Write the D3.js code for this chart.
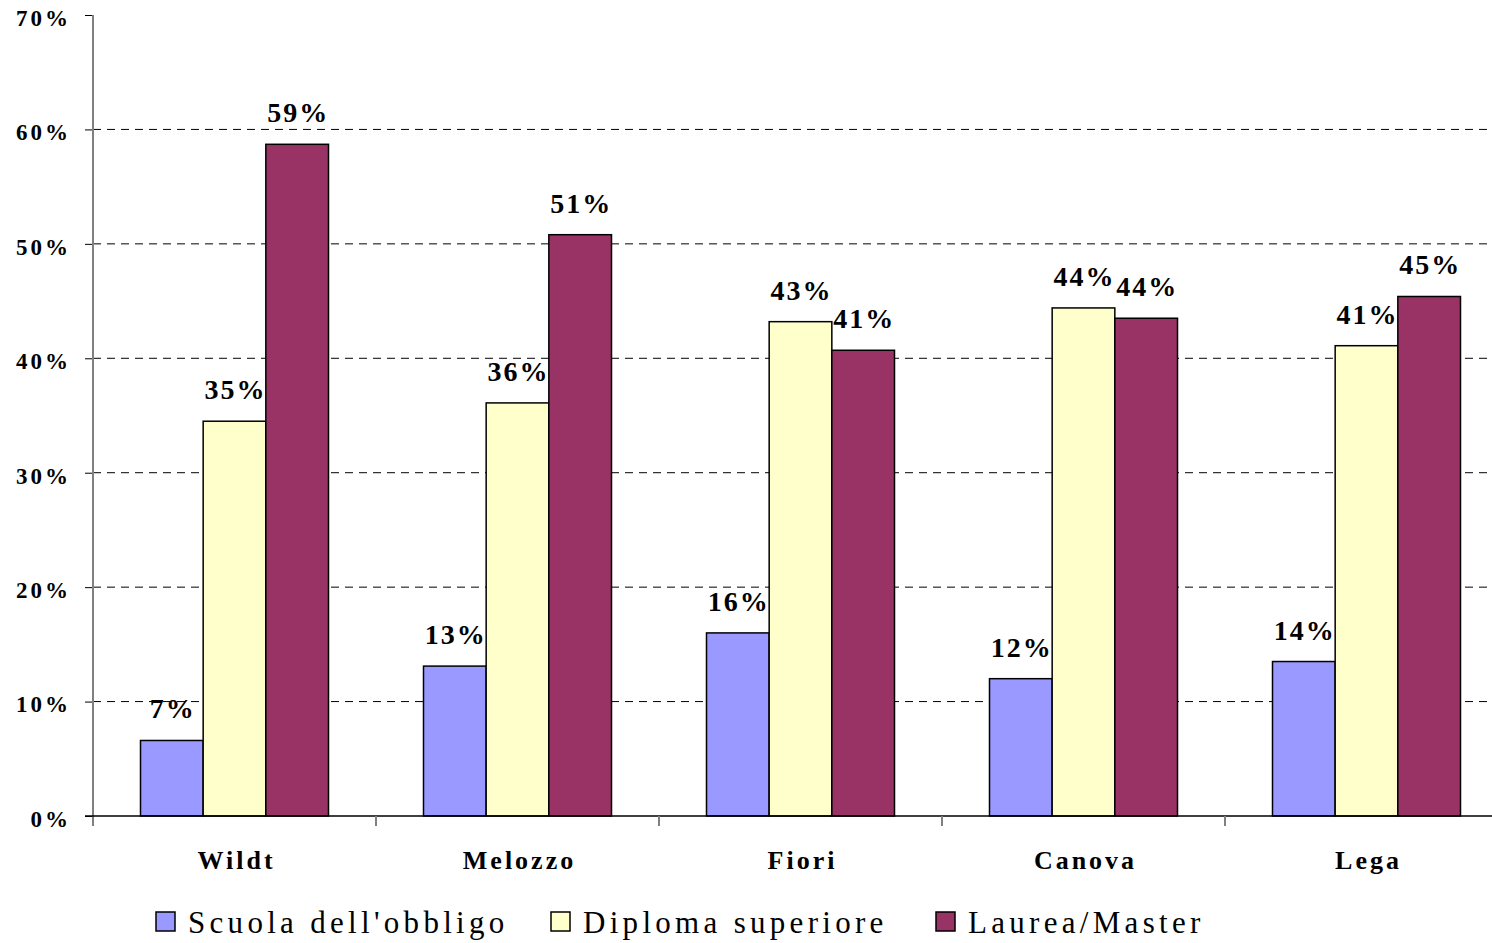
<!DOCTYPE html>
<html><head><meta charset="utf-8">
<script src="https://cdn.jsdelivr.net/npm/d3@7"></script>
<style>
html,body{margin:0;padding:0;background:#fff;}
text{font-family:"Liberation Serif","DejaVu Serif",serif;font-weight:bold;fill:#000;}
</style></head>
<body>
<svg id="chart" width="1492" height="943"></svg>
<script>
const categories = ["Wildt","Melozzo","Fiori","Canova","Lega"];
const seriesNames = ["Scuola dell'obbligo","Diploma superiore","Laurea/Master"];
const scuola = [6.6, 13.1, 16.0, 12.0, 13.5];
const diploma = [34.5, 36.1, 43.2, 44.4, 41.1];
const laurea = [58.7, 50.8, 40.7, 43.5, 45.4];
const labels = [["7%","13%","16%","12%","14%"],["35%","36%","43%","44%","41%"],["59%","51%","41%","44%","45%"]];
const yTicks = [0,10,20,30,40,50,60,70];
const colors = ["#9999FF","#FFFFCC","#993366"];

(function(){
const series = [scuola, diploma, laurea];
const svg = d3.select("#chart");
const mLeft = 93, mTop = 15, mBottom = 816, catW = 283;
const x0 = d3.scaleBand().domain(categories).range([mLeft, mLeft + catW*categories.length]);
const x1 = d3.scaleBand().domain(d3.range(3)).range([47.5, catW-47.5]);
const y = d3.scaleLinear().domain([0,70]).range([mBottom, mTop]);

// gridlines
svg.append("g").selectAll("line").data(yTicks.filter(t=>t>0&&t<70)).join("line")
  .attr("x1", mLeft).attr("x2", 1490).attr("y1", d=>y(d)).attr("y2", d=>y(d))
  .attr("stroke","#000").attr("stroke-width",1).attr("stroke-dasharray","8,6");

// y axis
const yAxis = d3.axisLeft(y).tickValues(yTicks).tickFormat(d=>d+"%").tickSize(8).tickPadding(14);
const gy = svg.append("g").attr("transform",`translate(${mLeft},0)`).call(yAxis);
gy.select(".domain").remove();
gy.selectAll(".tick line").attr("stroke","#000");
gy.selectAll(".tick text").attr("dy","0.45em").style("font-size","23px").style("letter-spacing","3px");
svg.append("line").attr("x1",mLeft).attr("x2",mLeft).attr("y1",mTop).attr("y2",mBottom+10).attr("stroke","#808080").attr("stroke-width",2);

// bars
const groups = svg.append("g").selectAll("g").data(categories).join("g")
  .attr("transform", d=>`translate(${x0(d)},0)`);
groups.each(function(c, ci){
  const g = d3.select(this);
  series.forEach((s, si)=>{
    g.append("rect").attr("x", x1(si)).attr("width", x1.bandwidth())
      .attr("y", y(s[ci])).attr("height", mBottom - y(s[ci]))
      .attr("fill", colors[si]).attr("stroke","#000").attr("stroke-width",1.5);
    g.append("text").attr("x", x1(si)+x1.bandwidth()/2 + 1).attr("y", y(s[ci]) - 22)
      .attr("text-anchor","middle").style("font-size","28px").style("letter-spacing","2px")
      .text(labels[si][ci]);
  });
});

// x axis
svg.append("line").attr("x1",mLeft-8).attr("x2",1492).attr("y1",mBottom).attr("y2",mBottom).attr("stroke","#000").attr("stroke-width",1.5);
svg.append("g").selectAll("line").data(categories.slice(1)).join("line")
  .attr("x1", d=>x0(d)).attr("x2", d=>x0(d)).attr("y1", mBottom).attr("y2", mBottom+10)
  .attr("stroke","#808080").attr("stroke-width",2);
svg.append("g").selectAll("text").data(categories).join("text")
  .attr("x", d=>x0(d)+catW/2 + 2).attr("y", 869).attr("text-anchor","middle")
  .style("font-size","26px").style("letter-spacing","3px").text(d=>d);

// legend
const legX = [156, 551, 936];
const leg = svg.append("g").selectAll("g").data(seriesNames).join("g")
  .attr("transform",(d,i)=>`translate(${legX[i]},912)`);
leg.append("rect").attr("width",19).attr("height",19).attr("fill",(d,i)=>colors[i]).attr("stroke","#000").attr("stroke-width",1.5);
leg.append("text").attr("x",32).attr("y",21).style("font-size","31px").style("font-weight","normal").style("letter-spacing","4.3px").text(d=>d);
})();
</script>
</body></html>
